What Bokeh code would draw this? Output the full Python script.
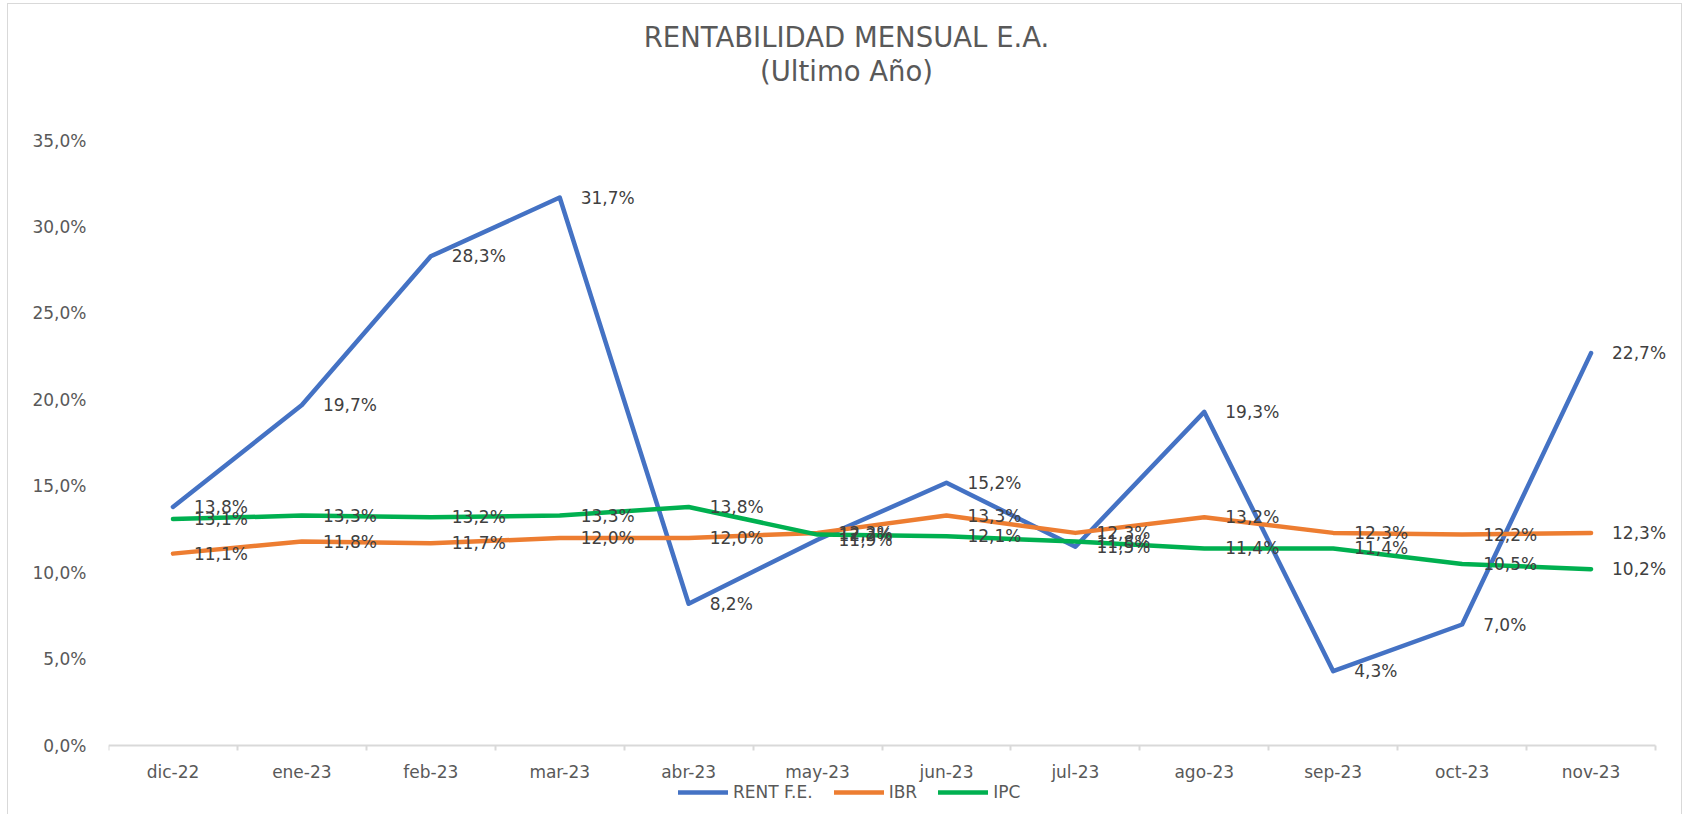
from bokeh.plotting import figure
from bokeh.models import (ColumnDataSource, FixedTicker, Legend, LegendItem, Label,
                          LabelSet)
from bokeh.core.properties import value
from bokeh.embed import file_html
from bokeh.resources import INLINE

categories = ["dic-22", "ene-23", "feb-23", "mar-23", "abr-23", "may-23",
              "jun-23", "jul-23", "ago-23", "sep-23", "oct-23", "nov-23"]
rent_fe = [13.8, 19.7, 28.3, 31.7, 8.2, 11.9, 15.2, 11.5, 19.3, 4.3, 7.0, 22.7]
ibr = [11.1, 11.8, 11.7, 12.0, 12.0, 12.3, 13.3, 12.3, 13.2, 12.3, 12.2, 12.3]
ipc = [13.1, 13.3, 13.2, 13.3, 13.8, 12.2, 12.1, 11.8, 11.4, 11.4, 10.5, 10.2]
y_ticks = [0, 5, 10, 15, 20, 25, 30, 35]
y_tick_labels = ["0,0%", "5,0%", "10,0%", "15,0%", "20,0%", "25,0%", "30,0%", "35,0%"]
title_lines = ["RENTABILIDAD MENSUAL E.A.", "(Ultimo Año)"]

series = [("RENT F.E.", rent_fe, "#4472C4"),
          ("IBR", ibr, "#ED7D31"),
          ("IPC", ipc, "#00B050")]

idx = list(range(len(categories)))
n = len(categories)
Y_MAX = y_ticks[-1]

# layout geometry (pixels): category plot area 1547 x 605, extra room around it
PLOT_W, PLOT_H = 1547, 605
EXTRA_R, EXTRA_T, EXTRA_B = 26, 136, 69
unit_x = PLOT_W / n
unit_y = PLOT_H / Y_MAX
FW, FH = PLOT_W + EXTRA_R, PLOT_H + EXTRA_T + EXTRA_B

p = figure(frame_width=FW, frame_height=FH, output_backend="svg", toolbar_location=None,
           x_range=(-0.5, n - 0.5 + EXTRA_R / unit_x),
           y_range=(-EXTRA_B / unit_y, Y_MAX + EXTRA_T / unit_y),
           min_border_left=100, min_border_right=0, min_border_top=0,
           min_border_bottom=0)
p.outline_line_color = None
p.background_fill_color = "white"
p.border_fill_color = "white"
p.xgrid.visible = False
p.ygrid.visible = False
p.styles = {"border-top": "1px solid #d9d9d9", "border-left": "1px solid #d9d9d9",
            "border-right": "1px solid #d9d9d9", "margin-left": "7px",
            "margin-top": "3px"}

# titles
top_of_plot = EXTRA_B + PLOT_H
for txt, dy in zip(title_lines, [104, 70]):
    p.add_layout(Label(x=738, y=top_of_plot + dy, x_units="screen", y_units="screen",
                       text=txt, text_align="center", text_baseline="middle",
                       text_font="DejaVu Sans", text_font_size="27.5px",
                       text_color="#595959"))

# axes
p.xaxis.fixed_location = 0
p.xaxis.bounds = (-0.5, n - 0.5)
p.xaxis.ticker = FixedTicker(ticks=idx, minor_ticks=[i - 0.5 for i in idx] + [n - 0.5])
p.xaxis.major_label_overrides = {i: c for i, c in zip(idx, categories)}
p.xaxis.major_tick_line_color = None
p.xaxis.minor_tick_line_color = "#d9d9d9"
p.xaxis.minor_tick_line_width = 2
p.xaxis.minor_tick_in = 0
p.xaxis.minor_tick_out = 5
p.xaxis.axis_line_color = "#d9d9d9"
p.xaxis.axis_line_width = 2
p.xaxis.major_label_text_font = "DejaVu Sans"
p.xaxis.major_label_text_font_size = "17px"
p.xaxis.major_label_text_color = "#595959"
p.xaxis.major_label_standoff = 10

p.yaxis.bounds = (0, Y_MAX)
p.yaxis.ticker = FixedTicker(ticks=y_ticks)
p.yaxis.major_label_overrides = {t: l for t, l in zip(y_ticks, y_tick_labels)}
p.yaxis.axis_line_color = None
p.yaxis.major_tick_line_color = None
p.yaxis.minor_tick_line_color = None
p.yaxis.major_label_text_font = "DejaVu Sans"
p.yaxis.major_label_text_font_size = "17px"
p.yaxis.major_label_text_color = "#595959"
p.yaxis.major_label_standoff = 16

items = []
for name, vals, color in series:
    src = ColumnDataSource(dict(x=idx, y=vals,
                                lab=[f"{v:.1f}%".replace(".", ",") for v in vals]))
    r = p.line("x", "y", source=src, line_color=color, line_width=4.5,
               line_cap="round", line_join="round")
    items.append(LegendItem(label=name, renderers=[r]))
    p.add_layout(LabelSet(x="x", y="y", text="lab", source=src, x_offset=21,
                          y_offset=0, text_baseline="middle", text_align="left",
                          text_font=value("DejaVu Sans"), text_font_size=value("17px"),
                          text_color=value("#404040")))

legend = Legend(items=items, orientation="horizontal", location=(570, 12),
                border_line_color=None, background_fill_alpha=0,
                label_text_font="DejaVu Sans", label_text_font_size="17px",
                label_text_color="#595959", glyph_width=50, glyph_height=18,
                spacing=21, padding=0, margin=0, label_standoff=5)
p.add_layout(legend, "center")

open("out.html", "w").write(file_html(p, INLINE))
